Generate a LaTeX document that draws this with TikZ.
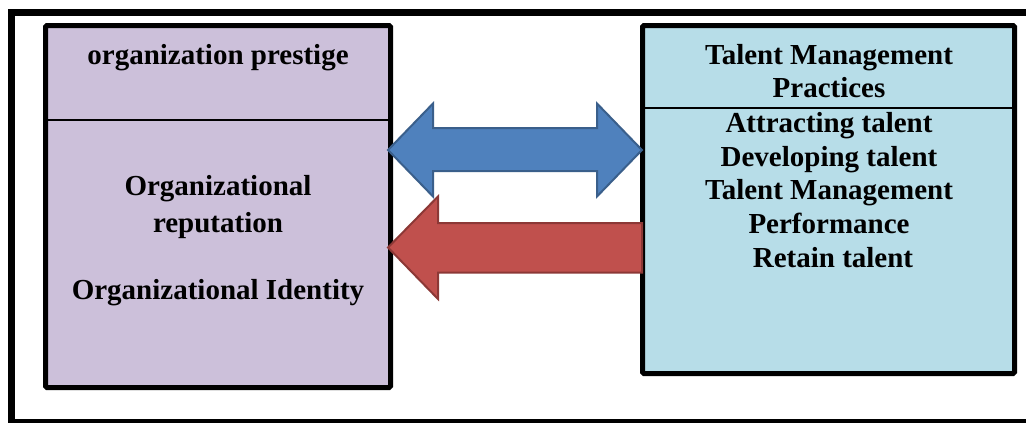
\documentclass[tikz,border=0pt]{standalone}
\usepackage{fontspec}
\setmainfont{Liberation Serif}
\definecolor{boxpurple}{HTML}{CCC0DA}
\definecolor{boxblue}{HTML}{B7DDE8}
\definecolor{arrblue}{HTML}{4F81BD}
\definecolor{arrblueline}{HTML}{3A5F8B}
\definecolor{arrred}{HTML}{C0504D}
\definecolor{arrredline}{HTML}{8C3836}
\begin{document}
\begin{tikzpicture}[x=1pt,y=-1pt,
  panel/.style={draw=black,line width=5pt,rounded corners=1.5pt},
  divider/.style={draw=black,line width=1.3pt},
  lbl/.style={font=\bfseries\fontsize{29}{33}\selectfont,anchor=base,inner sep=0pt},
  bigarrow/.style={line width=2pt,line join=miter}]
\useasboundingbox (0,0) rectangle (1026,423);
% outer frame (right edge lies beyond the page)
\draw[line width=7pt] (11.5,12) rectangle (1060,422);
% left panel
\draw[panel,fill=boxpurple] (45.5,25.5) rectangle (390.5,387.5);
\draw[divider] (45.5,120) -- (390.5,120);
% right panel
\draw[panel,fill=boxblue] (642.5,25.5) rectangle (1014.5,373.5);
\draw[divider] (642.5,108) -- (1014.5,108);
% arrows
\draw[bigarrow,fill=arrblue,draw=arrblueline]
  (388,150) -- (433,103.5) -- (433,128) -- (597,128) -- (597,103.5) -- (642,150)
  -- (597,196.5) -- (597,171) -- (433,171) -- (433,196.5) -- cycle;
\draw[bigarrow,fill=arrred,draw=arrredline]
  (388,247.5) -- (438,196.5) -- (438,223) -- (642,223) -- (642,272.5) -- (438,272.5) -- (438,299) -- cycle;
% texts left
\node[lbl] (lt) at (218,64) {organization prestige};
\node[lbl] (l1) at (218,195) {Organizational};
\node[lbl] (l2) at (218,232) {reputation};
\node[lbl] (l3) at (218,299) {Organizational Identity};
% texts right
\node[lbl] (rt1) at (829,64) {Talent Management};
\node[lbl] (rt2) at (829,97) {Practices};
\node[lbl] (r1) at (829,132) {Attracting talent};
\node[lbl] (r2) at (829,166) {Developing talent};
\node[lbl] (r3) at (829,199.5) {Talent Management};
\node[lbl] (r4) at (829,233) {Performance};
\node[lbl] (r5) at (833,267) {Retain talent};
\end{tikzpicture}
\end{document}
